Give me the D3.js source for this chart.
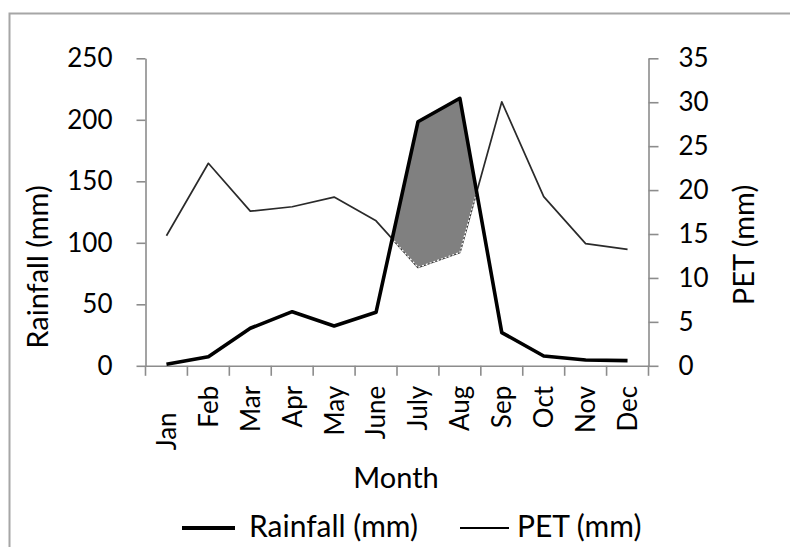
<!DOCTYPE html>
<html>
<head>
<meta charset="utf-8">
<script src="https://cdn.jsdelivr.net/npm/d3@7"></script>
<style>
body { margin: 0; background: #fff; }
text { font-family: Lato, "Open Sans", sans-serif; fill: #000; }
</style>
</head>
<body>
<svg id="chart" width="790" height="547"></svg>
<script>
// values
var months = ["Jan    ", "Feb", "Mar", "Apr", "May", "June", "July", "Aug", "Sep", "Oct", "Nov", "Dec"];
var rainfall = [1.2, 7.4, 30.5, 44, 32.4, 43.5, 198.4, 217.5, 27, 8, 4.7, 4.2];
var pet = [14.8, 23.05, 17.6, 18.1, 19.2, 16.5, 11.2, 12.9, 30.05, 19.25, 13.9, 13.25];
var rainTicks = [0, 50, 100, 150, 200, 250];
var petTicks = [0, 5, 10, 15, 20, 25, 30, 35];

var plotLeft = 145.5, plotRight = 648.5, plotTop = 58.3, plotBottom = 365.8;
var axisColor = "#8c8c8c";

var svg = d3.select("#chart");

// outer frame
svg.append("rect")
	.attr("x", 9.5)
	.attr("y", 13.5)
	.attr("width", 820)
	.attr("height", 600)
	.attr("fill", "none")
	.attr("stroke", "#a6a6a6")
	.attr("stroke-width", 2);

var x = d3.scaleBand()
	.domain(months)
	.range([plotLeft, plotRight]);

var yL = d3.scaleLinear()
	.domain([0, 250])
	.range([plotBottom, plotTop]);

var yR = d3.scaleLinear()
	.domain([0, 35])
	.range([plotBottom, plotTop]);

function cx(m) { return x(m) + x.bandwidth() / 2; }

// left axis
var leftAxis = svg.append("g")
	.attr("transform", "translate(" + plotLeft + ",0)")
	.call(d3.axisLeft(yL).tickValues(rainTicks).tickSize(9).tickPadding(24).tickSizeOuter(0));

// right axis
var rightAxis = svg.append("g")
	.attr("transform", "translate(" + plotRight + ",0)")
	.call(d3.axisRight(yR).tickValues(petTicks).tickSize(10).tickPadding(20).tickSizeOuter(0));

// month axis, ticks between categories
var xAxis = svg.append("g")
	.attr("transform", "translate(0," + plotBottom + ")")
	.call(d3.axisBottom(x).tickSize(0).tickSizeOuter(0));

xAxis.selectAll(".tick text")
	.attr("y", 0)
	.attr("x", -20)
	.attr("dy", "0.36em")
	.attr("transform", "rotate(-90)")
	.style("text-anchor", "end")
	.style("white-space", "pre");

var bounds = months.map(function (m) { return x(m); }).concat([plotRight]);
xAxis.selectAll(".sep")
	.data(bounds)
	.enter().append("line")
	.attr("class", "sep")
	.attr("x1", d => d)
	.attr("x2", d => d)
	.attr("y1", 0)
	.attr("y2", 10);

[leftAxis, rightAxis, xAxis].forEach(function (g) {
	g.selectAll("path, line").attr("stroke", axisColor).attr("stroke-width", 1.6);
	g.selectAll("text").attr("font-size", "26px").attr("font-family", "Lato, sans-serif").attr("fill", "#000");
});

// surplus region: rainfall above PET (in plotted position)
var pts = months.map(function (m, i) {
	return { x: cx(m), r: yL(rainfall[i]), p: yR(pet[i]) };
});
var regions = [], cur = null;
for (var i = 0; i < pts.length; i++) {
	var a = pts[i], above = a.r < a.p;
	if (i > 0) {
		var b = pts[i - 1], prevAbove = b.r < b.p;
		if (above !== prevAbove) {
			var t = (b.p - b.r) / ((b.p - b.r) - (a.p - a.r));
			var c = { x: b.x + t * (a.x - b.x), y: b.r + t * (a.r - b.r) };
			if (above) {
				cur = { top: [c], bot: [c] };
			} else {
				cur.top.push(c);
				regions.push(cur);
				cur = null;
			}
		}
	}
	if (above) {
		if (!cur) cur = { top: [], bot: [] };
		cur.top.push({ x: a.x, y: a.r });
		cur.bot.push({ x: a.x, y: a.p });
	}
}
if (cur) regions.push(cur);

var petLine = d3.line()
	.x((d, i) => cx(months[i]))
	.y(d => yR(d));

var rainLine = d3.line()
	.x((d, i) => cx(months[i]))
	.y(d => yL(d));

svg.append("path")
	.datum(pet)
	.attr("fill", "none")
	.attr("stroke", "#2a2a2a")
	.attr("stroke-width", 1.7)
	.attr("stroke-linejoin", "round")
	.attr("d", petLine);

var poly = d3.line().x(d => d.x).y(d => d.y);
svg.selectAll(".surplus")
	.data(regions)
	.enter().append("path")
	.attr("class", "surplus")
	.attr("fill", "#808080")
	.attr("stroke", "#fff")
	.attr("stroke-width", 1.2)
	.attr("stroke-dasharray", "2,2")
	.attr("d", d => poly(d.top.concat(d.bot.slice().reverse())) + "Z");

svg.append("path")
	.datum(rainfall)
	.attr("fill", "none")
	.attr("stroke", "#000")
	.attr("stroke-width", 3.6)
	.attr("stroke-linejoin", "round")
	.attr("d", rainLine);

// axis titles
svg.append("text")
	.attr("transform", "translate(48,267) rotate(-90)")
	.attr("text-anchor", "middle")
	.attr("font-size", "29px")
	.text("Rainfall (mm)");

svg.append("text")
	.attr("transform", "translate(754,245) rotate(-90)")
	.attr("text-anchor", "middle")
	.attr("font-size", "29px")
	.text("PET (mm)");

svg.append("text")
	.attr("x", 396)
	.attr("y", 488)
	.attr("text-anchor", "middle")
	.attr("font-size", "29px")
	.text("Month");

// legend
var legend = [
	{ name: "Rainfall (mm)", x1: 182, x2: 235, tx: 249, w: 4 },
	{ name: "PET (mm)", x1: 460, x2: 509, tx: 517, w: 1.8 }
];
var lg = svg.append("g");
lg.selectAll("line")
	.data(legend)
	.enter().append("line")
	.attr("x1", d => d.x1)
	.attr("x2", d => d.x2)
	.attr("y1", 528)
	.attr("y2", 528)
	.attr("stroke", "#000")
	.attr("stroke-width", d => d.w);
lg.selectAll("text")
	.data(legend)
	.enter().append("text")
	.attr("x", d => d.tx)
	.attr("y", 537)
	.attr("font-size", "30px")
	.text(d => d.name);
</script>
</body>
</html>
